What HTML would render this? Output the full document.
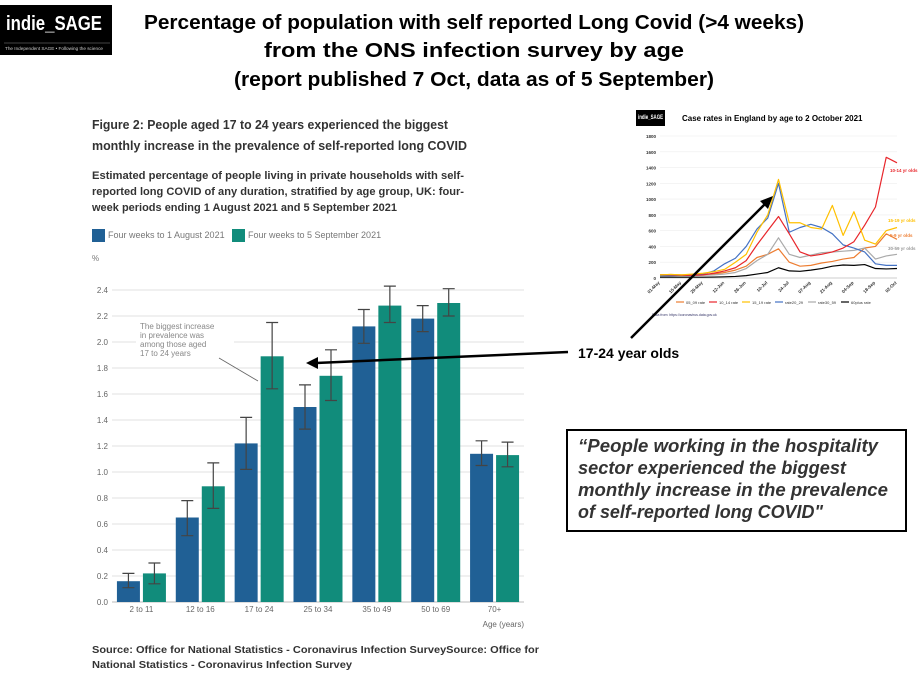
<!DOCTYPE html>
<html><head><meta charset="utf-8"><style>
html,body{margin:0;padding:0;background:#fff;width:921px;height:678px;overflow:hidden}
svg{display:block;font-family:"Liberation Sans",sans-serif}
</style></head><body>
<svg id="s" width="921" height="678" viewBox="0 0 921 678" xmlns="http://www.w3.org/2000/svg">
<g>
<rect x="0" y="5" width="112" height="50" fill="#000"/>
<text x="6" y="30" fill="#fff" font-size="20" font-weight="bold" textLength="96" lengthAdjust="spacingAndGlyphs">indie_SAGE</text>
<line x1="4" y1="43" x2="110" y2="43" stroke="#888" stroke-width="0.6"/>
<text x="5" y="50" fill="#ccc" font-size="4.2" textLength="98" lengthAdjust="spacingAndGlyphs">The Independent SAGE • Following the science</text>
</g>
<g font-size="20" font-weight="bold" fill="#000" text-anchor="middle">
<text x="474" y="29" textLength="660" lengthAdjust="spacingAndGlyphs">Percentage of population with self reported Long Covid (&gt;4 weeks)</text>
<text x="474" y="57" textLength="420" lengthAdjust="spacingAndGlyphs">from the ONS infection survey by age</text>
<text x="474" y="86" textLength="480" lengthAdjust="spacingAndGlyphs">(report published 7 Oct, data as of 5 September)</text>
</g>
<g font-size="12.5" font-weight="bold" fill="#333">
<text x="92" y="129" textLength="356" lengthAdjust="spacingAndGlyphs">Figure 2: People aged 17 to 24 years experienced the biggest</text>
<text x="92" y="150" textLength="375" lengthAdjust="spacingAndGlyphs">monthly increase in the prevalence of self-reported long COVID</text>
</g>
<g font-size="11" font-weight="bold" fill="#333">
<text x="92" y="179" textLength="372" lengthAdjust="spacingAndGlyphs">Estimated percentage of people living in private households with self-</text>
<text x="92" y="195" textLength="372" lengthAdjust="spacingAndGlyphs">reported long COVID of any duration, stratified by age group, UK: four-</text>
<text x="92" y="211" textLength="305" lengthAdjust="spacingAndGlyphs">week periods ending 1 August 2021 and 5 September 2021</text>
</g>
<g font-size="9" fill="#777">
<rect x="92" y="229" width="13" height="13" fill="#206095"/>
<text x="108" y="238">Four weeks to 1 August 2021</text>
<rect x="232" y="229" width="13" height="13" fill="#118c7b"/>
<text x="248" y="238">Four weeks to 5 September 2021</text>
<text x="92" y="261" font-size="8">%</text>
</g>
<g id="main"></g>
<g font-size="10.5" font-weight="bold" fill="#333">
<text x="92" y="653" textLength="447" lengthAdjust="spacingAndGlyphs">Source: Office for National Statistics - Coronavirus Infection SurveySource: Office for</text>
<text x="92" y="668" textLength="260" lengthAdjust="spacingAndGlyphs">National Statistics - Coronavirus Infection Survey</text>
</g>
<g id="inset">
<rect x="636" y="110" width="29" height="16" fill="#000"/>
<text x="638" y="119" fill="#fff" font-size="6" font-weight="bold" textLength="25" lengthAdjust="spacingAndGlyphs">indie_SAGE</text>
<text x="682" y="121" fill="#000" font-size="8" font-weight="bold">Case rates in England by age to 2 October 2021</text>
</g>
<g>
<line x1="568" y1="352" x2="316" y2="363" stroke="#000" stroke-width="2.5"/>
<polygon points="306,363 318,357 318,369" fill="#000"/>
<text x="578" y="358" font-size="14" font-weight="bold" fill="#000">17-24 year olds</text>
</g>
<g>
<line x1="631" y1="338" x2="766" y2="203" stroke="#000" stroke-width="2.5"/>
<polygon points="773,196 760,201 768,209" fill="#000"/>
</g>
<g>
<rect x="567" y="430" width="339" height="101" fill="#fff" stroke="#000" stroke-width="2"/>
<g font-size="18" font-weight="bold" font-style="italic" fill="#333">
<text x="578" y="452" textLength="300" lengthAdjust="spacingAndGlyphs">“People working in the hospitality</text>
<text x="578" y="474" textLength="268" lengthAdjust="spacingAndGlyphs">sector experienced the biggest</text>
<text x="578" y="496" textLength="310" lengthAdjust="spacingAndGlyphs">monthly increase in the prevalence</text>
<text x="578" y="518" textLength="245" lengthAdjust="spacingAndGlyphs">of self-reported long COVID"</text>
</g>
</g>
</svg>
<script>
const categories=["2 to 11","12 to 16","17 to 24","25 to 34","35 to 49","50 to 69","70+"];
const augValues=[0.16,0.65,1.22,1.50,2.12,2.18,1.14];
const sepValues=[0.22,0.89,1.89,1.74,2.28,2.30,1.13];
const augLow=[0.11,0.51,1.02,1.33,1.99,2.08,1.05];
const augHigh=[0.22,0.78,1.42,1.67,2.25,2.28,1.24];
const sepLow=[0.14,0.72,1.64,1.55,2.15,2.20,1.04];
const sepHigh=[0.30,1.07,2.15,1.94,2.43,2.41,1.23];
const yTicks=[0,0.2,0.4,0.6,0.8,1.0,1.2,1.4,1.6,1.8,2.0,2.2,2.4];

const insetDates=["01-May","15-May","29-May","12-Jun","26-Jun","10-Jul","24-Jul","07-Aug","21-Aug","04-Sep","18-Sep","02-Oct"];
const insetYTicks=[0,200,400,600,800,1000,1200,1400,1600,1800];
const rate05_09=[40,45,40,40,40,50,70,100,150,260,300,370,200,150,160,190,210,240,260,380,400,560,490];
const rate10_14=[40,40,35,35,40,60,90,130,220,420,600,780,560,330,280,300,330,380,460,670,900,1530,1460];
const rate15_19=[40,45,40,50,60,80,110,200,300,580,800,1250,700,700,640,620,920,540,840,480,430,600,640];
const rate20_29=[30,30,35,40,50,90,180,250,400,620,760,1200,580,640,680,640,560,420,380,330,180,160,160];
const rate30_59=[30,30,30,30,35,40,50,70,120,220,300,510,300,260,290,320,330,340,350,380,240,280,300];
const rate60plus=[10,10,10,10,10,12,15,20,30,50,70,130,90,85,100,120,150,165,160,170,120,115,120];

const NS="http://www.w3.org/2000/svg";
function mk(tag,attrs,parent,txt){const e=document.createElementNS(NS,tag);for(const k in attrs)e.setAttribute(k,attrs[k]);if(txt!==undefined)e.textContent=txt;parent.appendChild(e);return e;}

const main=document.getElementById('main');
const X0=112,X1=524,Y0=602,PX=130;
const yS=v=>Y0-v*PX;
const band=(X1-X0)/categories.length;
const bw=23;
yTicks.forEach(t=>{
  const g=mk('line',{x1:X0,x2:X1,y1:yS(t),y2:yS(t),stroke:t===0?'#bbb':'#e2e2e2','stroke-width':1},main);
  
  
  const l=mk('text',{x:108,y:yS(t)+3,'text-anchor':'end','font-size':8,fill:'#666'},main,t.toFixed(1));
  
  
});
mk('rect',{x:136,y:318,width:98,height:40,fill:'#fff'},main);
function bar(i,v,lo,hi,off,col,nm){
  const cx=X0+band*(i+0.5)+off;
  const r=mk('rect',{x:cx-bw/2,y:yS(v),width:bw,height:v*PX,fill:col},main);
  
  
  const e=mk('path',{d:`M${cx-6},${yS(hi)}H${cx+6}M${cx},${yS(hi)}V${yS(lo)}M${cx-6},${yS(lo)}H${cx+6}`,stroke:'#444','stroke-width':1.2,fill:'none'},main);
  
  
}
categories.forEach((c,i)=>{
  bar(i,augValues[i],augLow[i],augHigh[i],-13,'#206095','bar-aug');
  bar(i,sepValues[i],sepLow[i],sepHigh[i],13,'#118c7b','bar-sep');
  const t=mk('text',{x:X0+band*(i+0.5),y:612,'text-anchor':'middle','font-size':8,fill:'#666'},main,c);
  
  
});
const xt=mk('text',{x:524,y:627,'text-anchor':'end','font-size':8,fill:'#666'},main,'Age (years)');


const ann=["The biggest increase","in prevalence was","among those aged","17 to 24 years"];
ann.forEach((s,i)=>{const t=mk('text',{x:140,y:329+i*9,'font-size':8,fill:'#888'},main,s);
  
  });
mk('line',{x1:219,y1:358,x2:258,y2:381,stroke:'#666','stroke-width':0.8},main);

const ins=document.getElementById('inset');
const IX0=660,IX1=897,IY0=278,IY1=136;
const iy=v=>IY0-(v/1800)*(IY0-IY1);
const nW=rate10_14.length;
const ix=i=>IX0+i*(IX1-IX0)/(nW-1);
insetYTicks.forEach(t=>{
  mk('line',{x1:IX0,x2:IX1,y1:iy(t),y2:iy(t),stroke:t===0?'#999':'#eee','stroke-width':0.6},ins);
  const l=mk('text',{x:656,y:iy(t)+2,'text-anchor':'end','font-size':4.5,fill:'#333','font-weight':'bold'},ins,t);
  
  
});
insetDates.forEach((d,k)=>{
  const x=ix(k*2);
  const t=mk('text',{x:x,y:283,'text-anchor':'end','font-size':4.5,fill:'#333','font-weight':'bold',transform:`rotate(-45 ${x} 283)`},ins,d);
  
  
});
const series=[[rate60plus,'#000','60plus rate'],[rate05_09,'#ed7d31','05_09 rate'],[rate30_59,'#aaa','rate30_59'],[rate20_29,'#4472c4','rate20_29'],[rate10_14,'#e8262b','10_14 rate'],[rate15_19,'#ffc000','15_19 rate']];
series.forEach(([arr,col,nm])=>{
  const p=mk('polyline',{points:arr.map((v,i)=>ix(i)+','+iy(v)).join(' '),fill:'none',stroke:col,'stroke-width':1.2,'stroke-linejoin':'round'},ins);
  
  
});
const legOrder=[['#ed7d31','05_09 rate'],['#e8262b','10_14 rate'],['#ffc000','15_19 rate'],['#4472c4','rate20_29'],['#aaa','rate30_59'],['#000','60plus rate']];
legOrder.forEach(([col,nm],k)=>{
  const x=676+k*33;
  mk('line',{x1:x,x2:x+8,y1:302,y2:302,stroke:col,'stroke-width':1.2},ins);
  const t=mk('text',{x:x+10,y:304,'font-size':4,fill:'#333'},ins,nm);
  
  
});
mk('text',{x:652,y:316,'font-size':3.5,fill:'#336'},ins,'Data from: https://coronavirus.data.gov.uk');
[["10-14 yr olds",890,172,'#e8262b'],["15-19 yr olds",888,222,'#ffc000'],["5-9 yr olds",890,237,'#ed7d31'],["30-59 yr olds",888,250,'#999']].forEach(([s,x,y,c])=>{
  const t=mk('text',{x:x,y:y,'font-size':4.5,fill:c,'font-weight':'bold'},ins,s);
  
  
});
</script>
</body></html>
